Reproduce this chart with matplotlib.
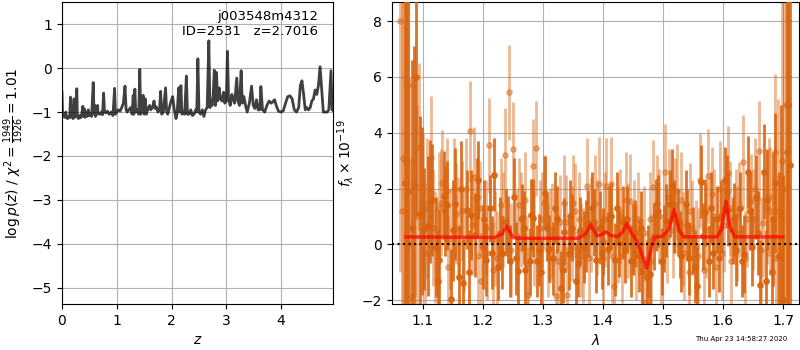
import matplotlib
matplotlib.use("Agg")
import matplotlib.pyplot as plt
import numpy as np

# ---- p(z) curve ----
z_grid = [0.00, 0.01, 0.03, 0.05, 0.07, 0.08, 0.10, 0.12, 0.14, 0.155, 0.165, 0.18, 0.20, 0.22, 0.23,
          0.25, 0.27, 0.28, 0.30, 0.32, 0.34, 0.36, 0.38, 0.39, 0.41, 0.42, 0.44, 0.46, 0.48, 0.50,
          0.52, 0.54, 0.57, 0.585, 0.60, 0.61, 0.63, 0.65, 0.66, 0.68, 0.70, 0.72, 0.74, 0.76, 0.775,
          0.80, 0.83, 0.86, 0.88, 0.90, 0.93, 0.96, 0.975, 1.00, 1.03, 1.06, 1.09, 1.12, 1.15, 1.17,
          1.19, 1.22, 1.25, 1.28, 1.30, 1.31, 1.33, 1.345, 1.37, 1.40, 1.42, 1.435, 1.45, 1.48, 1.50,
          1.52, 1.54, 1.57, 1.60, 1.62, 1.65, 1.68, 1.70, 1.72, 1.75, 1.78, 1.80, 1.82, 1.85, 1.89,
          1.91, 1.93, 1.96, 1.99, 2.02, 2.05, 2.08, 2.10, 2.13, 2.15, 2.17, 2.19, 2.22, 2.24, 2.27,
          2.29, 2.32, 2.35, 2.38, 2.41, 2.44, 2.46, 2.48, 2.50, 2.53, 2.56, 2.59, 2.62, 2.65, 2.68,
          2.70, 2.72, 2.74, 2.76, 2.78, 2.80, 2.82, 2.84, 2.87, 2.89, 2.92, 2.95, 2.97, 3.00, 3.02,
          3.04, 3.07, 3.10, 3.12, 3.15, 3.19, 3.21, 3.24, 3.27, 3.29, 3.32, 3.35, 3.38, 3.42, 3.46,
          3.49, 3.52, 3.55, 3.58, 3.61, 3.63, 3.66, 3.70, 3.74, 3.78, 3.82, 3.86, 3.88, 3.91, 3.95,
          4.00, 4.04, 4.08, 4.12, 4.16, 4.20, 4.24, 4.28, 4.32, 4.35, 4.38, 4.41, 4.44, 4.47, 4.50,
          4.53, 4.56, 4.59, 4.62, 4.65, 4.68, 4.71, 4.74, 4.77, 4.80, 4.84, 4.87, 4.91, 4.93, 4.95]
logpz = [-0.55, -1.05, -1.10, -1.12, -1.00, -1.12, -1.15, -1.10, -1.13, -0.66, -1.10, -1.05, -1.15, -0.70, -1.12,
         -1.10, -0.47, -1.10, -1.15, -1.08, -1.13, -1.05, -0.87, -1.10, -0.93, -1.12, -1.00, -1.10, -0.95, -1.08,
         -1.05, -1.10, -0.33, -1.05, -0.85, -1.10, -0.95, -0.85, -1.05, -1.03, -1.05, -1.00, -1.06, -0.57, -1.00,
         -1.02, -0.98, -1.05, -1.03, -1.00, -1.08, -0.46, -1.05, -1.00, -0.95, -0.98, -0.90, -0.80, -0.41, -0.95,
         -1.00, -0.95, -0.90, -1.05, -0.62, -1.05, -0.48, -1.00, -0.95, -1.05, -0.03, -1.05, -1.00, -0.62, -1.05,
         -0.70, -1.05, -0.92, -0.85, -0.95, -0.90, -0.75, -0.92, -0.88, -1.00, -0.95, -0.53, -1.05, -1.00, -0.45,
         -1.00, -1.05, -0.90, -0.75, -0.65, -0.95, -1.15, -1.05, -0.45, -1.00, -0.40, -1.05, -1.00, -1.05, -0.18,
         -1.05, -1.05, -0.95, -1.08, -1.05, -0.95, -1.00, 0.21, -1.00, -1.05, -0.95, -1.10, -0.95, -0.90, 0.62,
         -0.90, -0.75, -0.85, -0.60, -0.05, -0.85, -0.10, -0.75, -0.45, -0.70, -0.75, -0.55, -0.80, -0.75, 0.38,
         -0.70, -0.85, -0.60, -0.70, -0.80, -0.23, -0.75, -0.85, -0.06, -0.80, -0.65, -0.85, -1.00, -0.80, -0.41,
         -0.85, -0.92, -0.72, -0.95, -0.95, -0.42, -0.95, -1.00, -0.85, -0.75, -0.80, -0.75, -0.72, -0.85, -0.98,
         -1.00, -0.97, -0.80, -0.65, -0.63, -0.70, -0.95, -1.00, -0.90, -0.40, -0.29, -0.60, -0.95, -0.90, -0.95,
         -0.90, -0.75, -0.70, -0.50, -0.60, -0.40, 0.03, -0.50, -1.00, -1.00, -1.00, -0.95, -0.06, -0.95, -0.97]

# ---- spectrum, first set (dark) ----
wave_a = [1.070, 1.076, 1.083, 1.089, 1.096, 1.102, 1.109, 1.115, 1.122, 1.128, 1.135, 1.141, 1.148, 1.154,
          1.161, 1.167, 1.174, 1.180, 1.187, 1.193, 1.200, 1.206, 1.213, 1.219, 1.226, 1.232, 1.239, 1.245,
          1.252, 1.258, 1.265, 1.271, 1.278, 1.284, 1.291, 1.297, 1.304, 1.310, 1.317, 1.323, 1.330, 1.336,
          1.343, 1.349, 1.356, 1.362, 1.369, 1.375, 1.382, 1.388, 1.395, 1.401, 1.408, 1.414, 1.421, 1.427,
          1.434, 1.440, 1.447, 1.453, 1.460, 1.466, 1.473, 1.479, 1.486, 1.492, 1.499, 1.505, 1.512, 1.518,
          1.525, 1.531, 1.538, 1.544, 1.551, 1.557, 1.564, 1.570, 1.577, 1.583, 1.590, 1.596, 1.603, 1.609,
          1.616, 1.622, 1.629, 1.635, 1.642, 1.648, 1.655, 1.661, 1.668, 1.674, 1.681, 1.687, 1.694, 1.700,
          1.706, 1.711]
flux_a = [2.2, 1.9, 0.6, 6.0, 1.1, 0.55, 0.65, 1.6, -0.1, -0.55, 1.75, 1.4, -1.95, 1.45,
          -1.15, -1.4, 1.25, 1.05, 0.35, 2.3, -0.1, -0.55, 1.3, 2.5, -0.8, -0.3, 0.8, -0.6,
          1.7, -0.95, 0.95, -0.9, -0.6, 0.95, -0.6, -1.0, 1.85, -0.15, -0.5, 0.9, -1.55, 0.45,
          -0.35, 0.6, -1.3, 0.5, -0.1, 0.75, 1.3, -0.55, 0.6, 0.1, -0.15, 1.0, -0.55, 0.05,
          0.8, 0.9, -0.6, 0.4, -0.4, -1.0, -1.15, -1.05, 0.3, 1.2, -0.6, 0.85, 1.45, 1.0,
          0.8, -0.4, 1.45, -0.5, 0.15, -1.5, 2.25, 1.15, -0.6, -0.3, 0.9, 1.0, 2.3, 1.25,
          0.5, -0.2, 1.3, -0.35, 2.6, -0.1, 1.7, -1.45, 2.6, 1.6, -1.0, 2.2, -0.4, -2.0,
          3.3, 2.85]
err_a = [9.0, 8.0, 6.0, 5.0, 3.5, 2.2, 2.5, 2.0, 1.8, 1.8, 1.6, 1.6, 1.8, 2.0,
         1.8, 1.6, 1.4, 1.6, 1.5, 1.4, 1.5, 1.3, 1.2, 1.3, 1.2, 1.3, 1.2, 1.3,
         1.4, 1.3, 1.2, 1.3, 1.2, 1.4, 1.3, 1.2, 1.3, 1.2, 1.3, 1.2, 1.3, 1.2,
         1.3, 1.2, 1.3, 1.2, 1.3, 1.2, 1.3, 1.2, 1.3, 1.2, 1.3, 1.2, 1.3, 1.2,
         1.3, 1.2, 1.3, 1.2, 1.3, 1.4, 1.3, 1.3, 1.2, 1.3, 1.2, 1.3, 1.2, 1.3,
         1.2, 1.3, 1.2, 1.3, 1.2, 1.4, 1.3, 1.2, 1.3, 1.3, 1.2, 1.3, 1.2, 1.3,
         1.2, 1.3, 1.3, 1.4, 1.3, 1.4, 1.5, 1.6, 1.7, 1.8, 2.0, 2.5, 3.0, 4.5,
         6.0, 9.0]
wave_a2 = [1.073, 1.086, 1.099, 1.112, 1.125, 1.138, 1.151, 1.164, 1.177, 1.190, 1.203, 1.216, 1.229,
           1.242, 1.255, 1.268, 1.281, 1.294, 1.307, 1.320, 1.333, 1.346, 1.359, 1.372, 1.385, 1.398,
           1.411, 1.424, 1.437, 1.450, 1.463, 1.476, 1.489, 1.502, 1.515, 1.528, 1.541, 1.554, 1.567,
           1.580, 1.593, 1.606, 1.619, 1.632, 1.645, 1.658, 1.671, 1.684, 1.697, 1.708]
flux_a2 = [3.0, 2.1, 1.2, 1.55, -1.3, 1.2, 0.5, 2.0, -1.0, 1.7, 0.9, -0.3, 0.4,
           0.55, -0.5, 0.6, 1.05, -0.2, 0.6, 1.3, -0.9, 1.0, -0.7, 0.3, 0.8, -0.3,
           0.9, 1.3, -0.2, 0.2, 0.6, -0.6, 1.05, 0.2, 2.1, 0.0, 0.7, -0.8, 0.3,
           1.3, -0.5, 1.9, 0.9, -0.6, 1.2, 0.4, -1.3, 0.9, 1.0, 5.0]
err_a2 = [9.0, 5.0, 3.0, 2.2, 1.8, 1.6, 1.8, 1.7, 1.5, 1.4, 1.4, 1.3, 1.3,
          1.2, 1.3, 1.3, 1.3, 1.3, 1.2, 1.3, 1.2, 1.3, 1.2, 1.3, 1.2, 1.3,
          1.2, 1.3, 1.2, 1.3, 1.3, 1.3, 1.3, 1.2, 1.3, 1.2, 1.3, 1.3, 1.2,
          1.3, 1.2, 1.3, 1.3, 1.3, 1.4, 1.5, 1.8, 2.4, 4.0, 10.0]

# ---- spectrum, second set (light) ----
wave_b = [1.062, 1.068, 1.075, 1.081, 1.088, 1.094, 1.101, 1.107, 1.114, 1.120, 1.127, 1.133, 1.140, 1.146,
          1.153, 1.159, 1.166, 1.172, 1.179, 1.185, 1.192, 1.198, 1.205, 1.211, 1.218, 1.224, 1.231, 1.237,
          1.244, 1.250, 1.257, 1.263, 1.270, 1.276, 1.283, 1.289, 1.296, 1.302, 1.309, 1.315, 1.322, 1.328,
          1.335, 1.341, 1.348, 1.354, 1.361, 1.367, 1.374, 1.380, 1.387, 1.393, 1.400, 1.406, 1.413, 1.419,
          1.426, 1.432, 1.439, 1.445, 1.452, 1.458, 1.465, 1.471, 1.478, 1.484, 1.491, 1.497, 1.504, 1.510,
          1.517, 1.523, 1.530, 1.536, 1.543, 1.549, 1.556, 1.562, 1.569, 1.575, 1.582, 1.588, 1.595, 1.601,
          1.608, 1.614, 1.621, 1.627, 1.634, 1.640, 1.647, 1.653, 1.660, 1.666, 1.673, 1.679, 1.686, 1.692,
          1.699, 1.705]
flux_b = [8.0, 3.1, 5.7, -1.9, 2.1, 3.5, 1.5, 1.3, 3.1, -0.1, 1.3, 2.2, 1.9, 0.2,
          2.0, 0.6, 1.2, 2.0, 4.05, 2.4, -0.4, -1.3, 0.6, 3.55, -0.9, -0.5, 1.4, 3.2,
          5.45, 3.4, 0.3, 0.9, 1.6, -1.8, 2.8, 3.45, 0.6, 1.5, -0.2, 0.5, -1.85, 0.8,
          1.5, -1.8, 0.4, 1.2, 0.9, -0.4, 2.1, 0.7, 1.5, 2.15, -0.5, 2.1, 2.15, -1.5,
          0.3, -0.4, 1.6, 1.55, 0.6, 0.9, -0.8, -2.1, 0.9, 2.05, 1.5, -0.6, 2.6, 1.7,
          0.5, 1.9, 1.6, -0.3, -1.0, 0.6, -0.1, 2.3, -0.9, 2.45, 1.8, -0.8, 2.0, 0.7,
          2.55, -0.6, 1.0, 1.25, 2.95, 0.9, 1.55, 2.0, 3.35, 0.75, 1.3, 1.2, 3.3, 1.2,
          3.0, 5.0]
err_b = [9.0, 8.0, 6.0, 5.0, 4.0, 3.0, 2.5, 2.5, 2.2, 2.0, 2.0, 1.9, 1.9, 1.8,
         1.8, 1.8, 1.8, 1.8, 1.8, 1.8, 1.8, 1.7, 1.7, 1.7, 1.7, 1.7, 1.7, 1.7,
         1.7, 1.7, 1.7, 1.7, 1.7, 1.7, 1.7, 1.7, 1.7, 1.7, 1.7, 1.7, 1.7, 1.7,
         1.7, 1.7, 1.7, 1.7, 1.7, 1.7, 1.7, 1.7, 1.7, 1.7, 1.7, 1.7, 1.7, 1.7,
         1.7, 1.7, 1.7, 1.7, 1.7, 1.7, 1.7, 1.7, 1.7, 1.7, 1.7, 1.7, 1.7, 1.7,
         1.7, 1.7, 1.7, 1.7, 1.7, 1.7, 1.7, 1.7, 1.7, 1.7, 1.7, 1.7, 1.7, 1.7,
         1.7, 1.7, 1.7, 1.7, 1.7, 1.7, 1.7, 1.8, 1.8, 1.9, 2.0, 2.3, 2.8, 4.0,
         7.0, 9.0]
wave_b2 = [1.065, 1.078, 1.091, 1.104, 1.117, 1.130, 1.143, 1.156, 1.169, 1.182, 1.195, 1.208, 1.221,
           1.234, 1.247, 1.260, 1.273, 1.286, 1.299, 1.312, 1.325, 1.338, 1.351, 1.364, 1.377, 1.390,
           1.403, 1.416, 1.429, 1.442, 1.455, 1.468, 1.481, 1.494, 1.507, 1.520, 1.533, 1.546, 1.559,
           1.572, 1.585, 1.598, 1.611, 1.624, 1.637, 1.650, 1.663, 1.676, 1.689, 1.702]
flux_b2 = [1.2, 0.0, 1.0, -0.3, 0.6, 1.5, -0.8, 1.1, 0.1, 0.7, 1.3, -0.3, 0.2,
           0.9, -0.2, 1.4, -0.7, 0.2, 0.9, 0.3, -0.6, 0.8, 1.5, -0.2, -0.5, 0.6,
           0.9, -0.4, 1.0, 0.5, -0.3, 0.4, -0.6, 1.0, 0.3, 1.4, 0.2, 1.2, -0.4,
           0.5, 1.0, -0.3, 1.3, 0.4, -0.5, 0.9, -0.2, 1.7, -0.5, 2.0]
err_b2 = [9.0, 6.0, 4.0, 2.5, 2.1, 1.9, 1.8, 1.8, 1.8, 1.8, 1.7, 1.7, 1.7,
          1.7, 1.7, 1.7, 1.7, 1.7, 1.7, 1.7, 1.7, 1.7, 1.7, 1.7, 1.7, 1.7,
          1.7, 1.7, 1.7, 1.7, 1.7, 1.7, 1.7, 1.7, 1.7, 1.7, 1.7, 1.7, 1.7,
          1.7, 1.7, 1.7, 1.7, 1.7, 1.7, 1.8, 1.9, 2.1, 3.0, 8.0]

# ---- best-fit model ----
model_wave = [1.072, 1.22, 1.232, 1.240, 1.250, 1.260, 1.36, 1.372, 1.380, 1.390, 1.398, 1.405, 1.413,
              1.425, 1.433, 1.440, 1.448, 1.456, 1.464, 1.473, 1.480, 1.486, 1.500, 1.510, 1.519, 1.527,
              1.535, 1.590, 1.598, 1.605, 1.612, 1.620, 1.700]
model_flux = [0.27, 0.25, 0.38, 0.65, 0.25, 0.22, 0.22, 0.40, 0.70, 0.30, 0.35, 0.45, 0.32,
              0.28, 0.45, 0.75, 0.40, 0.15, -0.30, -0.85, -0.20, 0.25, 0.30, 0.55, 1.25, 0.50,
              0.27, 0.27, 0.55, 1.55, 0.60, 0.27, 0.27]

obj_title = "j003548m4312\nID=2531   z=2.7016"
stamp = "Thu Apr 23 14:58:27 2020"

fig = plt.figure(figsize=(8, 3.5), dpi=100)
ax1 = fig.add_axes([0.0775, 0.131, 0.339, 0.863])
ax2 = fig.add_axes([0.490, 0.131, 0.509, 0.863])

ax1.plot(z_grid, logpz, color='k', alpha=0.75, lw=2)
ax1.set_xlim(0, 4.95)
ax1.set_ylim(-5.37, 1.5)
ax1.set_xticks([0, 1, 2, 3, 4])
ax1.set_yticks([-5, -4, -3, -2, -1, 0, 1])
ax1.grid(True, color='#b0b0b0', lw=0.8)
ax1.set_axisbelow(True)
ax1.set_xlabel(r'$z$')
ax1.set_ylabel(r'$\log p(z)$' + ' / ' + r'$\chi^2=\frac{1949}{1926}=1.01$')
ax1.text(0.945, 0.975, obj_title, transform=ax1.transAxes, ha='right', va='top',
         fontsize=9.5, multialignment='right')

col = '#d9640f'
light = dict(fmt='o', color=col, alpha=0.45, ms=3.8, elinewidth=2, capsize=0, zorder=2)
dark = dict(fmt='o', color=col, alpha=0.9, ms=3.8, elinewidth=2, capsize=0, zorder=3)
ax2.errorbar(wave_b, flux_b, yerr=err_b, **light)
ax2.errorbar(wave_b2, flux_b2, yerr=err_b2, **light)
ax2.errorbar(wave_a, flux_a, yerr=err_a, **dark)
ax2.errorbar(wave_a2, flux_a2, yerr=err_a2, **dark)
ax2.plot(model_wave, model_flux, color='r', alpha=0.7, lw=2.5, zorder=4)
ax2.axhline(0, color='k', ls=':', lw=1.5, zorder=5)
ax2.set_xlim(1.049, 1.727)
ax2.set_ylim(-2.14, 8.68)
ax2.set_xticks([1.1, 1.2, 1.3, 1.4, 1.5, 1.6, 1.7])
ax2.set_yticks([-2, 0, 2, 4, 6, 8])
ax2.grid(True, color='#b0b0b0', lw=0.8)
ax2.set_axisbelow(True)
ax2.set_xlabel(r'$\lambda$')
ax2.set_ylabel(r'$f_\lambda\times10^{-19}$')

fig.text(0.984, 0.022, stamp, ha='right', va='bottom', fontsize=5)

fig.savefig('out.png', dpi=100)
